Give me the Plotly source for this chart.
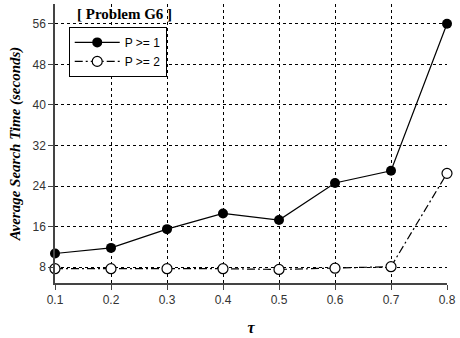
import plotly.graph_objects as go

tau = [0.1, 0.2, 0.3, 0.4, 0.5, 0.6, 0.7, 0.8]
p1 = [10.7, 11.8, 15.5, 18.6, 17.3, 24.6, 27.0, 56.0]
p2 = [7.7, 7.7, 7.7, 7.7, 7.55, 7.8, 8.1, 26.5]
yticks = [8, 16, 24, 32, 40, 48, 56]
xticks = [0.1, 0.2, 0.3, 0.4, 0.5, 0.6, 0.7, 0.8]

fig = go.Figure()
fig.add_trace(go.Scatter(x=tau, y=p1, name="P >= 1", mode="lines+markers",
                         line=dict(color="black", width=1.2),
                         marker=dict(symbol="circle", size=10, color="black"),
                         cliponaxis=False))
fig.add_trace(go.Scatter(x=tau, y=p2, name="P >= 2", mode="lines+markers",
                         line=dict(color="black", width=1.2, dash="8px,3px,2px,3px"),
                         marker=dict(symbol="circle", size=10, color="white",
                                     line=dict(color="black", width=1.2)),
                         cliponaxis=False))

fig.update_layout(
    width=460, height=338,
    margin=dict(l=55, r=13, t=4, b=52),
    plot_bgcolor="white", paper_bgcolor="white",
    font=dict(family="Liberation Sans, Arial", size=12, color="#333"),
    showlegend=True,
    legend=dict(x=0.035, y=0.918, xanchor="left", yanchor="top",
                bordercolor="black", borderwidth=1, bgcolor="white",
                font=dict(size=12, color="black"), tracegroupgap=0,
                itemwidth=45),
    xaxis=dict(range=[0.1, 0.8], tickvals=xticks, ticktext=[f"{v:.1f}" for v in xticks],
               showgrid=True, gridcolor="black", griddash="dot", gridwidth=1,
               showline=True, linecolor="#444", linewidth=1.5, zeroline=False,
               ticks="outside", ticklen=5, tickcolor="#444",
               title=dict(text="<b><i>τ</i></b>", standoff=16,
                          font=dict(family="Liberation Serif, Times New Roman", size=16, color="black"))),
    yaxis=dict(range=[4.88, 59.9], tickvals=yticks,
               showgrid=True, gridcolor="black", griddash="dot", gridwidth=1,
               showline=True, linecolor="#444", linewidth=1.5, zeroline=False,
               ticks="outside", ticklen=5, tickcolor="#444",
               title=dict(text="<b><i>Average Search Time (seconds)</i></b>", standoff=8,
                          font=dict(family="Liberation Serif, Times New Roman", size=15, color="black"))),
    annotations=[dict(text="<b>[ Problem G6 ]</b>", xref="paper", yref="paper",
                      x=0.05, y=0.965, xanchor="left", yanchor="middle", showarrow=False,
                      font=dict(family="Liberation Serif, Times New Roman", size=15, color="black"))],
)

fig.write_html("out.html")
